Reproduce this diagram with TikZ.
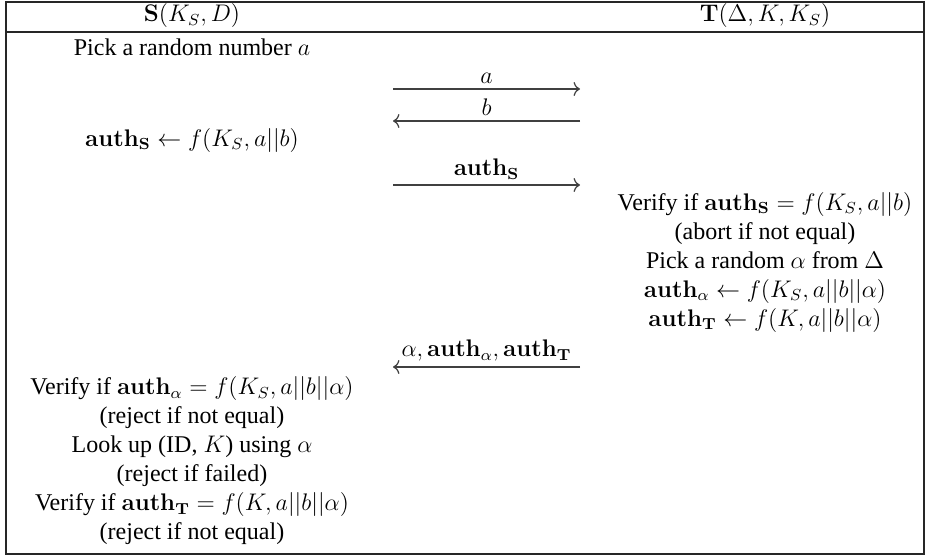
\documentclass[tikz,border=0pt]{standalone}
\usepackage[no-math]{fontspec}
\setmainfont{Liberation Serif}
\usetikzlibrary{arrows.meta}
\begin{document}
\begin{tikzpicture}[x=0.5pt,y=-0.5pt,
  txt/.style={inner sep=0pt, font=\fontsize{12}{14.5}\selectfont},
  blk/.style={txt, align=center},
  frame/.style={line width=0.8pt, draw=black!85},
  msg/.style={line width=0.6pt, draw=black!75, -{To[length=3.2pt,width=7pt]}},
  lbl/.style={above=1.5pt, inner sep=1pt, font=\fontsize{12}{14.5}\selectfont}]
\useasboundingbox (0,0) rectangle (925,556);
% table frame
\draw[frame] (6,2) rectangle (924,554);
\draw[frame] (6,32) -- (924,32);
% headers
\node[txt] (hs) at (192,16) {$\mathbf{S}(K_S,D)$};
\node[txt] (ht) at (765,16) {$\mathbf{T}(\Delta,K,K_S)$};
% S side
\node[txt] (pick) at (192,47) {Pick a random number $a$};
\node[txt] (authS) at (192,140) {$\mathbf{auth}_\mathbf{S}\leftarrow f(K_S,a||b)$};
\node[blk] (sblock) at (192,461) {Verify if $\mathbf{auth}_\alpha = f(K_S,a||b||\alpha)$\\
  (reject if not equal)\\
  Look up (ID, $K$) using $\alpha$\\
  (reject if failed)\\
  Verify if $\mathbf{auth}_\mathbf{T} = f(K,a||b||\alpha)$\\
  (reject if not equal)};
% T side
\node[blk] (tblock) at (765,262) {Verify if $\mathbf{auth}_\mathbf{S} = f(K_S,a||b)$\\
  (abort if not equal)\\
  Pick a random $\alpha$ from $\Delta$\\
  $\mathbf{auth}_\alpha \leftarrow f(K_S,a||b||\alpha)$\\
  $\mathbf{auth}_\mathbf{T} \leftarrow f(K,a||b||\alpha)$};
% messages
\coordinate (a1) at (393,89);  \coordinate (a2) at (580,89);
\coordinate (b1) at (393,121); \coordinate (b2) at (580,121);
\coordinate (c1) at (393,185); \coordinate (c2) at (580,185);
\coordinate (d1) at (393,367); \coordinate (d2) at (580,367);
\draw[msg] (a1) -- node[lbl] (la) {$a$} (a2);
\draw[msg] (b2) -- node[lbl] (lb) {$b$} (b1);
\draw[msg] (c1) -- node[lbl] (lc) {$\mathbf{auth}_\mathbf{S}$} (c2);
\draw[msg] (d2) -- node[lbl] (ld) {$\alpha,\mathbf{auth}_\alpha,\mathbf{auth}_\mathbf{T}$} (d1);
\end{tikzpicture}
\end{document}
